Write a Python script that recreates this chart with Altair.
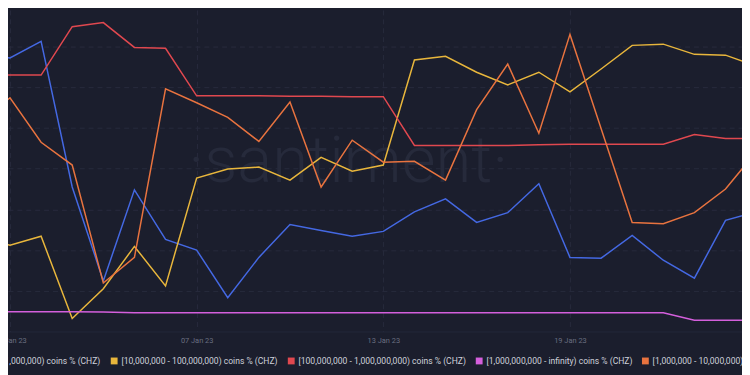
import altair as alt
import pandas as pd

# ---- data (units are the chart's hidden y scale) ----
dates = pd.date_range("2022-12-31", "2023-01-25", freq="D").strftime("%Y-%m-%d").tolist()

s_blue = "[100,000 - 1,000,000) coins % (CHZ)"
s_yellow = "[10,000,000 - 100,000,000) coins % (CHZ)"
s_red = "[100,000,000 - 1,000,000,000) coins % (CHZ)"
s_pink = "[1,000,000,000 - infinity) coins % (CHZ)"
s_orange = "[1,000,000 - 10,000,000) coins % (CHZ)"

series_names = [s_blue, s_yellow, s_red, s_pink, s_orange]
series_colors = ["#4468e2", "#e8b63c", "#e0484f", "#d45fdc", "#e8733f"]

blue = [6.86, 6.72, 7.13, 3.55, 1.24, 3.48, 2.26, 2.00, 0.83, 1.82, 2.63, 2.48, 2.34,
        2.46, 2.94, 3.26, 2.68, 2.92, 3.63, 1.82, 1.80, 2.36, 1.75, 1.31, 2.73, 2.94]
yellow = [2.26, 2.12, 2.34, 0.32, 1.05, 2.09, 1.12, 3.77, 3.99, 4.04, 3.72, 4.28, 3.94,
          4.09, 6.67, 6.76, 6.37, 6.06, 6.37, 5.89, 6.45, 7.03, 7.06, 6.81, 6.79, 6.52]
red = [6.30, 6.30, 6.30, 7.49, 7.59, 6.98, 6.96, 5.79, 5.79, 5.79, 5.78, 5.78, 5.77,
       5.77, 4.57, 4.57, 4.57, 4.57, 4.59, 4.60, 4.60, 4.60, 4.60, 4.84, 4.74, 4.74]
pink = [0.487, 0.487, 0.487, 0.487, 0.479, 0.462, 0.462, 0.462, 0.462, 0.462, 0.462,
        0.462, 0.462, 0.462, 0.462, 0.462, 0.462, 0.462, 0.462, 0.462, 0.462, 0.462,
        0.462, 0.275, 0.275, 0.275]
orange = [5.18, 5.74, 4.65, 4.09, 1.19, 1.82, 5.96, 5.62, 5.26, 4.67, 5.64, 3.55, 4.70,
          4.16, 4.18, 3.72, 5.45, 6.57, 4.87, 7.30, 4.99, 2.68, 2.65, 2.92, 3.50, 4.43]

tick_dates = ["2023-01-01", "2023-01-07", "2023-01-13", "2023-01-19"]

rows = []
for name, vals in zip(series_names, [blue, yellow, red, pink, orange]):
    for d, v in zip(dates, vals):
        rows.append({"date": d, "value": v, "series": name})
df = pd.DataFrame(rows)

BG = "#1b1e2d"
GRID = "#272b3d"

x_domain = [alt.DateTime(year=2022, month=12, date=31, hours=22, minutes=28, utc=True),
            alt.DateTime(year=2023, month=1, date=24, hours=12, minutes=43, utc=True)]
tick_values = [alt.DateTime(year=int(t[:4]), month=int(t[5:7]), date=int(t[8:]), utc=True)
               for t in tick_dates]

lines = alt.Chart(df).mark_line(strokeWidth=1.5, clip=True).encode(
    x=alt.X("date:T",
            scale=alt.Scale(type="utc", domain=x_domain),
            axis=alt.Axis(values=tick_values, title=None, grid=True, gridColor=GRID,
                          gridDash=[5, 4], ticks=False, domain=True, domainColor="#23273a",
                          labelExpr="utcFormat(datum.value, '%d %b %y')",
                          labelFontSize=7.5, labelColor="#6a6e80", labelFont="Roboto",
                          labelPadding=5, labelFlush=False)),
    y=alt.Y("value:Q",
            scale=alt.Scale(domain=[0, 7.9], nice=False, zero=False),
            axis=alt.Axis(values=[1, 2, 3, 4, 5, 6, 7], title=None, labels=False,
                          ticks=False, domain=False, grid=True, gridColor=GRID,
                          gridDash=[5, 4])),
    color=alt.Color("series:N",
                    scale=alt.Scale(domain=series_names, range=series_colors),
                    legend=alt.Legend(orient="none", legendX=-55, legendY=350,
                                      direction="horizontal", columns=5, title=None,
                                      symbolType="square", symbolSize=2,
                                      symbolStrokeWidth=5.5, labelFontSize=8.65,
                                      labelLimit=600,
                                      labelColor="#cfd2db", labelFont="Roboto",
                                      columnPadding=1, labelOffset=3)),
)

watermark = alt.Chart(pd.DataFrame({"t": ["\u00b7santiment\u00b7"]})).mark_text(
    font="Roboto", fontWeight=300, fontSize=66, color="#262a3b", align="center",
    baseline="alphabetic"
).encode(text="t:N", x=alt.value(344), y=alt.value(174))

chart = alt.layer(watermark, lines).properties(
    width=742, height=325, background=BG,
    padding={"left": 0, "top": 0, "right": 0, "bottom": 42},
    autosize=alt.AutoSizeParams(type="none"),
).configure_view(stroke=None)

chart.save("out.html", embed_options={"renderer": "svg", "actions": False})
